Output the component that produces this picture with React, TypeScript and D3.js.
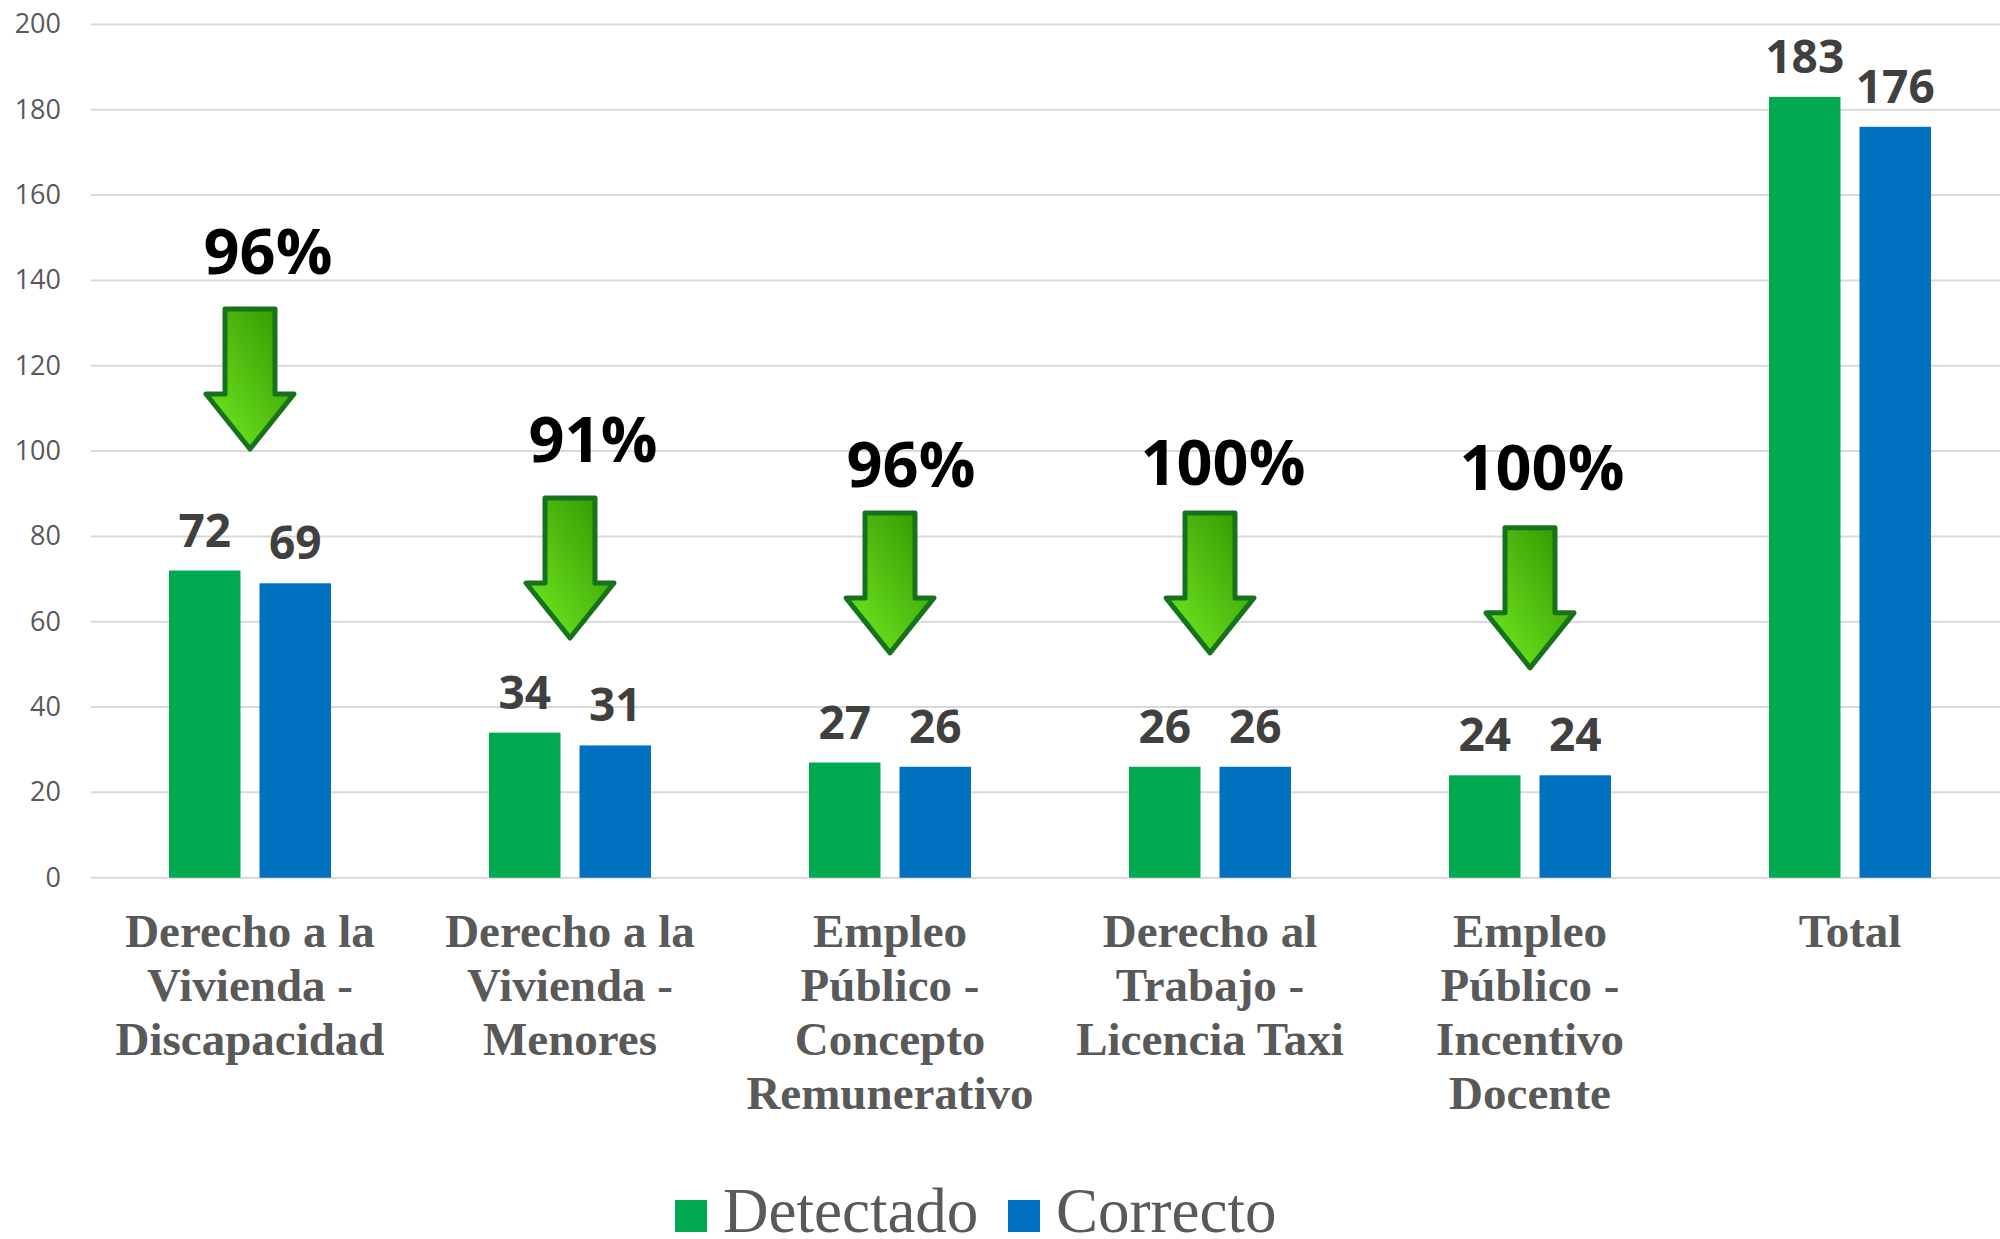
import React from "react";
import * as d3 from "d3";

const categories: string[][] = [
  ["Derecho a la", "Vivienda -", "Discapacidad"],
  ["Derecho a la", "Vivienda -", "Menores"],
  ["Empleo", "Público -", "Concepto", "Remunerativo"],
  ["Derecho al", "Trabajo -", "Licencia Taxi"],
  ["Empleo", "Público -", "Incentivo", "Docente"],
  ["Total"],
];
const seriesNames = ["Detectado", "Correcto"];
const detectado = [72, 34, 27, 26, 24, 183];
const correcto = [69, 31, 26, 26, 24, 176];
const yTicks = [0, 20, 40, 60, 80, 100, 120, 140, 160, 180, 200];

// annotations: percentage label + arrow (value units for arrow top)
const pctLabels = ["96%", "91%", "96%", "100%", "100%"];
const arrowTopValues = [134, 89.7, 86.2, 86.2, 82.7];
const pctLabelValues = [141.5, 97.4, 91.6, 92.0, 90.9];
const pctLabelDx = [18, 23, 21, 13, 12];

const colors = ["#00A84F", "#0070C0"];

export default function App() {
  const W = 2000;
  const H = 1239;
  const keys = categories.map((_, i) => String(i));
  const x = d3.scaleBand<string>().domain(keys).range([90, 2010]).paddingInner(0).paddingOuter(0);
  const xs = d3.scaleBand<string>().domain(seriesNames).range([-81, 81]).paddingInner(0.21);
  const y = d3.scaleLinear().domain([0, 200]).range([877.7, 24.4]);
  const values = [detectado, correcto];
  const cx = (i: number) => (x(String(i)) as number) + x.bandwidth() / 2;

  const arrowPath = (c: number, top: number) => {
    const sw = 25, hw = 44, shaftLen = 85, headLen = 55;
    const hy = top + shaftLen;
    const ty = hy + headLen;
    return `M${c - sw},${top} L${c + sw},${top} L${c + sw},${hy} L${c + hw},${hy} L${c},${ty} L${c - hw},${hy} L${c - sw},${hy} Z`;
  };

  return (
    <div style={{ position: "absolute", left: 0, top: 0 }}>
      <svg width={W} height={H} style={{ display: "block", background: "#fff" }}>
        <defs>
          <linearGradient id="arrowGrad" x1="1" y1="0" x2="0" y2="1">
            <stop offset="0" stopColor="#2f9200" />
            <stop offset="1" stopColor="#74ee22" />
          </linearGradient>
        </defs>
        {yTicks.map((t) => (
          <g key={t}>
            <line x1={91} x2={W} y1={y(t)} y2={y(t)} stroke="#d9d9d9" strokeWidth={2} />
            <text
              x={61}
              y={y(t) + 9}
              textAnchor="end"
              fontFamily="'Open Sans', sans-serif"
              fontSize={27}
              fill="#595959"
            >
              {t}
            </text>
          </g>
        ))}
        {values.map((vals, si) =>
          vals.map((v, i) => {
            const bx = cx(i) + (xs(seriesNames[si]) as number);
            return (
              <g key={`${si}-${i}`}>
                <rect x={bx} y={y(v)} width={xs.bandwidth()} height={y(0) - y(v)} fill={colors[si]} />
                <text
                  x={bx + xs.bandwidth() / 2}
                  y={y(v) - 24}
                  textAnchor="middle"
                  fontFamily="'Open Sans', sans-serif"
                  fontWeight="bold"
                  fontSize={46}
                  fill="#404040"
                >
                  {v}
                </text>
              </g>
            );
          })
        )}
        {pctLabels.map((p, i) => (
          <g key={`a${i}`}>
            <path
              d={arrowPath(cx(i), y(arrowTopValues[i]) + 3)}
              fill="url(#arrowGrad)"
              stroke="#17731b"
              strokeWidth={5}
              strokeLinejoin="round"
            />
            <text
              x={cx(i) + pctLabelDx[i]}
              y={y(pctLabelValues[i])}
              textAnchor="middle"
              fontFamily="'Open Sans', sans-serif"
              fontWeight="bold"
              fontSize={63}
              fill="#000"
            >
              {p}
            </text>
          </g>
        ))}
        {categories.map((lines, i) => (
          <text
            key={`c${i}`}
            textAnchor="middle"
            fontFamily="'Liberation Serif', serif"
            fontWeight="bold"
            fontSize={47}
            fill="#595959"
          >
            {lines.map((l, j) => (
              <tspan key={j} x={cx(i)} y={947 + j * 54}>
                {l}
              </tspan>
            ))}
          </text>
        ))}
        <g fontFamily="'Liberation Serif', serif" fontSize={63} fill="#595959">
          <rect x={675} y={1200} width={32} height={32} fill={colors[0]} />
          <text x={723} y={1232}>{seriesNames[0]}</text>
          <rect x={1008} y={1200} width={32} height={32} fill={colors[1]} />
          <text x={1056} y={1232}>{seriesNames[1]}</text>
        </g>
      </svg>
    </div>
  );
}
